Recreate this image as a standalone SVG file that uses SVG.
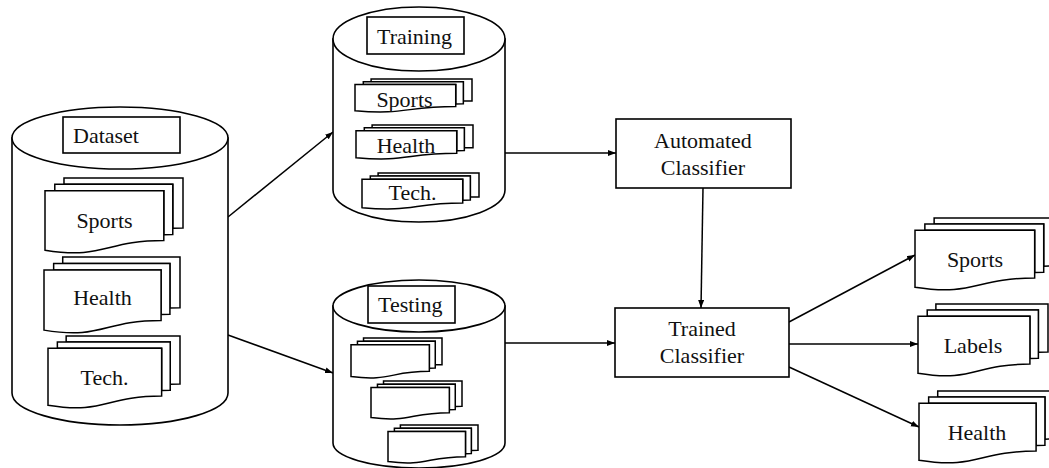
<svg xmlns="http://www.w3.org/2000/svg" xmlns:xlink="http://www.w3.org/1999/xlink" width="1049" height="468" viewBox="0 0 1049 468">
<style>
  .cyl { fill:#fff; stroke:#000; stroke-width:1.6; }
  .box { fill:#fff; stroke:#000; stroke-width:1.6; }
  .md path { fill:#fff; stroke:#000; stroke-width:1.5; vector-effect:non-scaling-stroke; }
  text { font-family:"Liberation Serif","Times New Roman",serif; font-size:22px; fill:#111; }
  .c { text-anchor:middle; }
  .conn line { stroke:#000; stroke-width:1.5; marker-end:url(#ah); }
</style>
<defs>
  <marker id="ah" markerWidth="9" markerHeight="7" refX="8" refY="3" orient="auto" markerUnits="userSpaceOnUse">
    <path d="M0,0 L8,3 L0,6 z" fill="#000"/>
  </marker>
  <symbol id="md" viewBox="0 0 21600 21600" preserveAspectRatio="none" overflow="visible" class="md">
    <path d="M2972,1815 L2972,0 L21600,0 L21600,14392 C20800,14392 20000,14467 20000,14467 L20000,1815 Z"/>
    <path d="M1532,3675 L1532,1815 L20000,1815 L20000,16252 C19298,16252 18595,16352 18595,16352 L18595,3675 Z"/>
    <path d="M0,20782 C9298,23542 9298,18022 18595,18022 L18595,3675 L0,3675 Z"/>
  </symbol>
</defs>
<rect width="1049" height="468" fill="#fff"/>

<g id="connectors" class="conn">
  <line x1="228" y1="217" x2="333" y2="132"/>
  <line x1="228" y1="335" x2="333" y2="373"/>
  <line x1="505" y1="153" x2="616" y2="153"/>
  <line x1="505" y1="343" x2="615" y2="343"/>
  <line x1="703" y1="188" x2="701" y2="308"/>
  <line x1="789" y1="322" x2="915" y2="255"/>
  <line x1="789" y1="344" x2="918" y2="344"/>
  <line x1="789" y1="367" x2="919" y2="427"/>
</g>

<g id="dataset">
  <path class="cyl" d="M12,138 V393 A108,32 0 0 0 228,393 V138 Z"/>
  <ellipse class="cyl" cx="120" cy="138" rx="108" ry="31"/>
  <rect class="box" x="63" y="117" width="117" height="36"/>
  <text x="73" y="143">Dataset</text>
  <use xlink:href="#md" href="#md" x="45" y="178" width="138" height="75"/>
  <text class="c" x="104.5" y="228">Sports</text>
  <use xlink:href="#md" href="#md" x="44" y="257" width="136" height="76"/>
  <text class="c" x="102.5" y="305">Health</text>
  <use xlink:href="#md" href="#md" x="48" y="336" width="132" height="72"/>
  <text class="c" x="104.5" y="385">Tech.</text>
</g>

<g id="training">
  <path class="cyl" d="M333,39 V190 A86,32 0 0 0 505,190 V39 Z"/>
  <ellipse class="cyl" cx="419" cy="39" rx="86" ry="32"/>
  <rect class="box" x="367" y="17" width="97" height="37"/>
  <text x="377" y="44">Training</text>
  <use xlink:href="#md" href="#md" x="355" y="79" width="117" height="33"/>
  <text class="c" x="404.5" y="107">Sports</text>
  <use xlink:href="#md" href="#md" x="356" y="125" width="117" height="34"/>
  <text class="c" x="406" y="153">Health</text>
  <use xlink:href="#md" href="#md" x="362" y="173" width="117" height="36"/>
  <text class="c" x="412.5" y="200">Tech.</text>
</g>

<g id="testing">
  <path class="cyl" d="M333,306 V443 A86,25 0 0 0 505,443 V306 Z"/>
  <ellipse class="cyl" cx="419" cy="306" rx="86" ry="26"/>
  <rect class="box" x="368" y="286" width="87" height="37"/>
  <text x="378" y="312">Testing</text>
  <use xlink:href="#md" href="#md" x="351" y="338" width="91" height="40"/>
  <use xlink:href="#md" href="#md" x="371" y="381" width="91" height="38"/>
  <use xlink:href="#md" href="#md" x="388" y="425" width="90" height="38"/>
</g>

<g id="automated-classifier">
  <rect class="box" x="616" y="119" width="175" height="69"/>
  <text class="c" x="703" y="148">Automated</text>
  <text class="c" x="703" y="175">Classifier</text>
</g>

<g id="trained-classifier">
  <rect class="box" x="615" y="308" width="174" height="69"/>
  <text class="c" x="702" y="336">Trained</text>
  <text class="c" x="702" y="363">Classifier</text>
</g>

<g id="out-sports">
  <use xlink:href="#md" href="#md" x="915" y="218" width="139" height="72"/>
  <text class="c" x="975" y="267">Sports</text>
</g>
<g id="out-labels">
  <use xlink:href="#md" href="#md" x="918" y="304" width="130" height="72"/>
  <text class="c" x="973" y="353">Labels</text>
</g>
<g id="out-health">
  <use xlink:href="#md" href="#md" x="919" y="391" width="136" height="72"/>
  <text class="c" x="977" y="440">Health</text>
</g>
</svg>
